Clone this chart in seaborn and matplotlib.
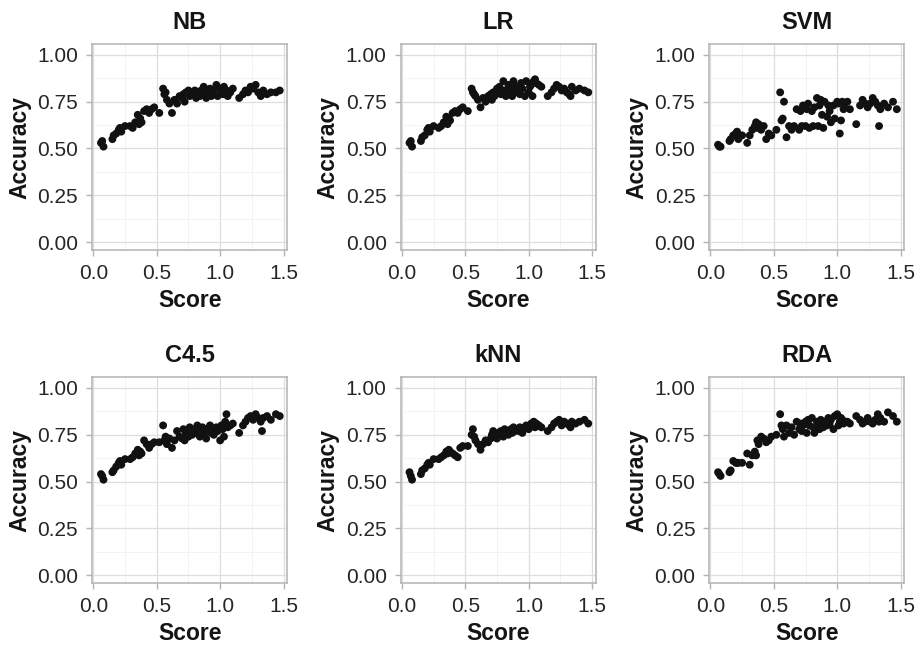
import matplotlib
matplotlib.use("Agg")
import matplotlib.pyplot as plt
import numpy as np
import pandas as pd
import seaborn as sns

# Dataset difficulty score (shared across classifiers)
score = [
    0.06, 0.07, 0.08, 0.15, 0.16, 0.18, 0.20, 0.21, 0.22, 0.25,
    0.29, 0.31, 0.33, 0.35, 0.36, 0.37, 0.38, 0.40, 0.42, 0.44,
    0.46, 0.48, 0.52, 0.55, 0.56, 0.57, 0.58, 0.60, 0.62, 0.64,
    0.66, 0.68, 0.70, 0.71, 0.72, 0.73, 0.75, 0.76, 0.77, 0.78,
    0.80, 0.81, 0.82, 0.84, 0.85, 0.86, 0.87, 0.88, 0.89, 0.90,
    0.92, 0.93, 0.94, 0.95, 0.97, 0.98, 1.00, 1.01, 1.02, 1.03,
    1.04, 1.05, 1.06, 1.08, 1.10, 1.15, 1.18, 1.20, 1.22, 1.24,
    1.26, 1.28, 1.30, 1.32, 1.33, 1.34, 1.37, 1.40, 1.44, 1.47,
]

acc_nb = [
    0.53, 0.54, 0.51, 0.55, 0.57, 0.58, 0.60, 0.61, 0.59, 0.62,
    0.62, 0.61, 0.64, 0.68, 0.63, 0.66, 0.64, 0.70, 0.71, 0.69,
    0.71, 0.72, 0.69, 0.82, 0.79, 0.80, 0.76, 0.74, 0.69, 0.76,
    0.74, 0.78, 0.77, 0.79, 0.75, 0.80, 0.81, 0.78, 0.80, 0.79,
    0.81, 0.77, 0.79, 0.78, 0.81, 0.80, 0.83, 0.79, 0.77, 0.80,
    0.82, 0.78, 0.79, 0.81, 0.84, 0.78, 0.82, 0.80, 0.79, 0.83,
    0.79, 0.81, 0.78, 0.80, 0.82, 0.77, 0.79, 0.81, 0.80, 0.83,
    0.82, 0.84, 0.80, 0.78, 0.79, 0.81, 0.79, 0.80, 0.80, 0.81,
]

acc_lr = [
    0.53, 0.54, 0.51, 0.54, 0.56, 0.57, 0.60, 0.61, 0.59, 0.62,
    0.61, 0.62, 0.64, 0.67, 0.63, 0.66, 0.65, 0.69, 0.70, 0.69,
    0.71, 0.72, 0.70, 0.82, 0.80, 0.79, 0.78, 0.76, 0.72, 0.77,
    0.75, 0.78, 0.79, 0.76, 0.80, 0.78, 0.82, 0.80, 0.83, 0.79,
    0.86, 0.81, 0.78, 0.84, 0.80, 0.82, 0.78, 0.86, 0.80, 0.83,
    0.81, 0.79, 0.85, 0.82, 0.78, 0.86, 0.80, 0.83, 0.84, 0.78,
    0.86, 0.87, 0.85, 0.84, 0.83, 0.78, 0.80, 0.82, 0.84, 0.83,
    0.81, 0.82, 0.80, 0.79, 0.78, 0.83, 0.81, 0.82, 0.81, 0.80,
]

acc_svm = [
    0.52, 0.51, 0.51, 0.54, 0.55, 0.57, 0.58, 0.59, 0.55, 0.57,
    0.53, 0.57, 0.60, 0.62, 0.64, 0.61, 0.63, 0.60, 0.62, 0.55,
    0.58, 0.57, 0.60, 0.80, 0.65, 0.66, 0.75, 0.56, 0.62, 0.60,
    0.62, 0.71, 0.60, 0.70, 0.62, 0.73, 0.62, 0.71, 0.74, 0.61,
    0.70, 0.62, 0.72, 0.77, 0.62, 0.73, 0.76, 0.68, 0.61, 0.75,
    0.67, 0.73, 0.70, 0.64, 0.73, 0.66, 0.75, 0.74, 0.58, 0.65,
    0.75, 0.71, 0.74, 0.75, 0.71, 0.63, 0.73, 0.76, 0.74, 0.72,
    0.74, 0.77, 0.75, 0.73, 0.62, 0.71, 0.74, 0.72, 0.75, 0.71,
]

acc_c45 = [
    0.54, 0.53, 0.51, 0.55, 0.56, 0.58, 0.60, 0.61, 0.59, 0.62,
    0.62, 0.63, 0.65, 0.67, 0.64, 0.66, 0.65, 0.72, 0.70, 0.68,
    0.70, 0.71, 0.71, 0.80, 0.72, 0.74, 0.70, 0.73, 0.68, 0.72,
    0.77, 0.74, 0.73, 0.78, 0.72, 0.76, 0.74, 0.79, 0.77, 0.75,
    0.78, 0.76, 0.80, 0.74, 0.77, 0.79, 0.76, 0.78, 0.73, 0.77,
    0.80, 0.76, 0.78, 0.75, 0.79, 0.77, 0.72, 0.80, 0.78, 0.74,
    0.82, 0.86, 0.79, 0.80, 0.81, 0.76, 0.80, 0.82, 0.84, 0.85,
    0.83, 0.86, 0.84, 0.82, 0.77, 0.84, 0.85, 0.83, 0.86, 0.85,
]

acc_knn = [
    0.55, 0.53, 0.51, 0.54, 0.56, 0.57, 0.59, 0.60, 0.59, 0.62,
    0.62, 0.63, 0.64, 0.66, 0.65, 0.67, 0.66, 0.65, 0.64, 0.63,
    0.68, 0.69, 0.69, 0.75, 0.78, 0.74, 0.72, 0.70, 0.67, 0.70,
    0.72, 0.71, 0.73, 0.75, 0.77, 0.74, 0.73, 0.76, 0.75, 0.77,
    0.74, 0.78, 0.76, 0.75, 0.77, 0.78, 0.76, 0.79, 0.77, 0.78,
    0.77, 0.79, 0.78, 0.76, 0.79, 0.80, 0.78, 0.79, 0.81, 0.80,
    0.82, 0.79, 0.81, 0.80, 0.79, 0.77, 0.79, 0.81, 0.82, 0.83,
    0.80, 0.82, 0.81, 0.80, 0.79, 0.82, 0.81, 0.82, 0.83, 0.81,
]

acc_rda = [
    0.55, 0.54, 0.53, 0.55, 0.56, 0.61, 0.60, 0.60, 0.60, 0.60,
    0.65, 0.59, 0.64, 0.66, 0.64, 0.72, 0.70, 0.74, 0.73, 0.71,
    0.72, 0.74, 0.75, 0.86, 0.80, 0.78, 0.74, 0.80, 0.76, 0.79,
    0.75, 0.82, 0.78, 0.81, 0.77, 0.80, 0.82, 0.76, 0.83, 0.80,
    0.84, 0.79, 0.76, 0.82, 0.80, 0.78, 0.83, 0.81, 0.79, 0.82,
    0.80, 0.84, 0.81, 0.83, 0.78, 0.85, 0.86, 0.80, 0.82, 0.84,
    0.83, 0.81, 0.82, 0.82, 0.81, 0.85, 0.83, 0.81, 0.82, 0.84,
    0.82, 0.81, 0.83, 0.86, 0.82, 0.84, 0.82, 0.87, 0.85, 0.82,
]

classifiers = ["NB", "LR", "SVM", "C4.5", "kNN", "RDA"]
accuracies = [acc_nb, acc_lr, acc_svm, acc_c45, acc_knn, acc_rda]

x_ticks = [0.0, 0.5, 1.0, 1.5]
x_tick_labels = ["0.0", "0.5", "1.0", "1.5"]
y_ticks = [0.0, 0.25, 0.5, 0.75, 1.0]
y_tick_labels = ["0.00", "0.25", "0.50", "0.75", "1.00"]

df = pd.concat(
    [pd.DataFrame({"Score": score, "Accuracy": acc, "Classifier": name})
     for name, acc in zip(classifiers, accuracies)],
    ignore_index=True,
)

sns.set_theme(style="white")
plt.rcParams["font.family"] = ["Liberation Sans", "DejaVu Sans"]

fig = plt.figure(figsize=(9.21, 6.48), dpi=100)

col_left = [0.100, 0.435, 0.770]
row_bottom = [0.614, 0.100]
ax_w, ax_h = 0.212, 0.318

border = "#B3B3B3"
text_col = "#262626"
label_col = "#141414"

for i, name in enumerate(classifiers):
    r, c = divmod(i, 3)
    ax = fig.add_axes([col_left[c], row_bottom[r], ax_w, ax_h])
    ax.set_axisbelow(True)
    sub = df[df["Classifier"] == name]
    sns.scatterplot(data=sub, x="Score", y="Accuracy", ax=ax,
                    color="#111111", s=32, edgecolor="none", linewidth=0,
                    legend=False, zorder=3)
    ax.set_xlim(-0.01, 1.53)
    ax.set_ylim(-0.043, 1.058)
    ax.set_xticks(x_ticks)
    ax.set_xticklabels(x_tick_labels)
    ax.set_yticks(y_ticks)
    ax.set_yticklabels(y_tick_labels)
    ax.set_xticks([0.25, 0.75, 1.25], minor=True)
    ax.set_yticks([0.125, 0.375, 0.625, 0.875], minor=True)
    ax.grid(which="major", color="#DEDEDE", linewidth=0.9)
    ax.grid(which="minor", color="#EFEFEF", linewidth=0.5)
    for sp in ax.spines.values():
        sp.set_color(border)
        sp.set_linewidth(1.1)
    ax.tick_params(axis="both", which="major", direction="out", length=4.5,
                   width=1.0, color=border, labelsize=15, labelcolor=text_col,
                   pad=5.5, bottom=True, left=True)
    ax.tick_params(axis="both", which="minor", length=0)
    ax.set_xlabel("Score", fontsize=16.5, fontweight="bold", color=label_col,
                  labelpad=4)
    ax.set_ylabel("Accuracy", fontsize=16.5, fontweight="bold", color=label_col,
                  labelpad=4.5)
    ax.set_title(name, fontsize=17, fontweight="bold", color=label_col, pad=11)

fig.savefig("out.png", dpi=100, facecolor="white")
